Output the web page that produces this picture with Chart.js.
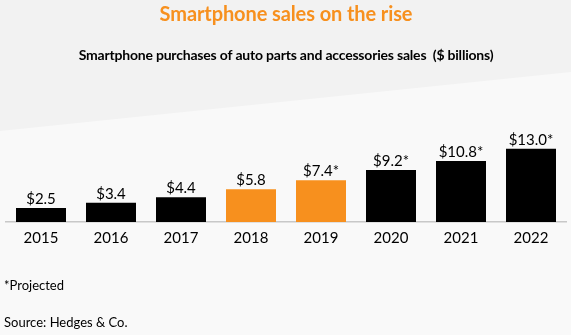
<!DOCTYPE html>
<html>
<head>
<meta charset="utf-8">
<script src="https://cdn.jsdelivr.net/npm/chart.js@4/dist/chart.umd.min.js"></script>
<style>
    html, body { margin: 0; padding: 0; background: #f9f9f9; }
    #wrap { position: relative; width: 571px; height: 335px; }
</style>
</head>
<body>
<div id="wrap"><canvas id="salesChart" width="571" height="335"></canvas></div>
<script>
const years = ['2015', '2016', '2017', '2018', '2019', '2020', '2021', '2022'];
const sales = [2.5, 3.4, 4.4, 5.8, 7.4, 9.2, 10.8, 13.0];
const valueLabels = ['$2.5', '$3.4', '$4.4', '$5.8', '$7.4*', '$9.2*', '$10.8*', '$13.0*'];
const highlighted = ['2018', '2019'];

const ORANGE = '#f7901e';

// gray slanted band behind the titles + footnotes
const backdrop = {
    id: 'backdrop',
    beforeDraw(chart) {
        const ctx = chart.ctx;
        ctx.save();
        ctx.fillStyle = '#f9f9f9';
        ctx.fillRect(0, 0, chart.width, chart.height);
        ctx.fillStyle = '#f2f2f2';
        ctx.beginPath();
        ctx.moveTo(0, 0);
        ctx.lineTo(chart.width, 0);
        ctx.lineTo(chart.width, 72);
        ctx.lineTo(0, 131);
        ctx.closePath();
        ctx.fill();
        ctx.restore();
    },
    afterDraw(chart) {
        const ctx = chart.ctx;
        ctx.save();
        ctx.textAlign = 'center';
        ctx.textBaseline = 'middle';
        ctx.font = 'bold 20px Lato';
        ctx.letterSpacing = '-0.1px';
        ctx.fillStyle = ORANGE;
        ctx.fillText('Smartphone sales on the rise', 286, 14.5);
        ctx.font = 'bold 14px Lato';
        ctx.letterSpacing = '-0.2px';
        ctx.fillStyle = '#000';
        ctx.fillText('Smartphone purchases of auto parts and accessories sales  ($ billions)', 286, 55);
        ctx.letterSpacing = '0px';
        ctx.textAlign = 'left';
        ctx.font = '13px Lato';
        ctx.fillText('*Projected', 4, 286);
        ctx.fillText('Source: Hedges & Co.', 4, 323);
        ctx.restore();
    }
};

const barValues = {
    id: 'barValues',
    afterDatasetsDraw(chart) {
        const ctx = chart.ctx;
        const meta = chart.getDatasetMeta(0);
        ctx.save();
        ctx.font = '15px Lato';
        ctx.fillStyle = '#000';
        ctx.textAlign = 'center';
        ctx.textBaseline = 'alphabetic';
        meta.data.forEach((bar, i) => {
            ctx.fillText(valueLabels[i], bar.x, bar.y - 4);
        });
        ctx.restore();
    }
};

new Chart(document.getElementById('salesChart'), {
    type: 'bar',
    data: {
        labels: years,
        datasets: [{
            data: sales,
            backgroundColor: years.map(y => highlighted.includes(y) ? ORANGE : '#000'),
            categoryPercentage: 50 / 70,
            barPercentage: 1
        }]
    },
    options: {
        responsive: false,
        animation: false,
        layout: { padding: { top: 143, left: 6, right: 5, bottom: 0 } },
        plugins: {
            legend: { display: false },
            tooltip: { enabled: false }
        },
        scales: {
            x: {
                grid: { display: false, drawTicks: false },
                border: { color: '#c8c8c8', width: 1.5 },
                ticks: { color: '#000', font: { family: 'Lato', size: 15 }, padding: 7 },
                afterFit(scale) { scale.height = 113; }
            },
            y: {
                display: false,
                min: 0,
                max: 14
            }
        }
    },
    plugins: [backdrop, barValues]
});
</script>
</body>
</html>
